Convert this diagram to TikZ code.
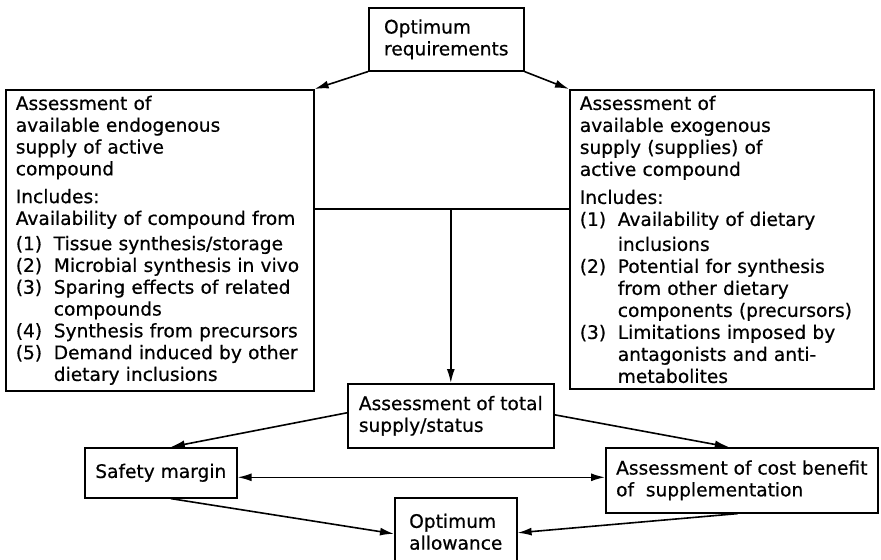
\documentclass[tikz,border=0pt]{standalone}
\usepackage{fontspec}
\setmainfont{DejaVu Sans}[FakeBold=0.6]
\usetikzlibrary{arrows.meta}
\usetikzlibrary{calc}

% 编号条目: 编号占固定宽度, 续行缩进同宽
\newcommand{\itemno}[1]{\makebox[19pt][l]{#1}}
\newcommand{\itemcont}{\hspace*{19pt}}

\begin{document}
\begin{tikzpicture}[x=0.5pt, y=-0.5pt]
        % ================= 样式定义 =================
        \tikzset{
            % 方框节点:白底黑边,文字左对齐
            bnode/.style={draw=black, thick, fill=white, align=left, inner xsep=5pt, inner ysep=3pt,
                font=\fontsize{9.3}{10.9}\selectfont},
            % 带箭头的连线
            >={Latex[length=7pt, width=4pt]},
            alink/.style={thick, black, ->}
        }
        \useasboundingbox (0,0) rectangle (881,560);

        % ================= 顶部:最优需要量 =================
        \node[bnode, anchor=north west, minimum width=77.5pt, minimum height=31.5pt] (req) at (368,7)
            {Optimum\\requirements};

        % ================= 左右两个评估框 =================
        \node[bnode, anchor=north west, text width=144pt] (endo) at (5,89) {%
            Assessment of\\
            available endogenous\\
            supply of active\\
            compound\\[3pt]
            Includes:\\
            Availability of compound from\\[1.7pt]
            \itemno{(1)}Tissue synthesis/storage\\
            \itemno{(2)}Microbial synthesis in vivo\\
            \itemno{(3)}Sparing effects of related\\
            \itemcont compounds\\
            \itemno{(4)}Synthesis from precursors\\
            \itemno{(5)}Demand induced by other\\
            \itemcont dietary inclusions};

        \node[bnode, anchor=north west, text width=142pt, font=\fontsize{9.3}{11}\selectfont] (exo) at (569,89) {%
            Assessment of\\
            available exogenous\\
            supply (supplies) of\\
            active compound\\[3pt]
            Includes:\\
            \itemno{(1)}Availability of dietary\\[1.5pt]
            \itemcont inclusions\\
            \itemno{(2)}Potential for synthesis\\
            \itemcont from other dietary\\
            \itemcont components (precursors)\\
            \itemno{(3)}Limitations imposed by\\
            \itemcont antagonists and anti-\\
            \itemcont metabolites};

        % ================= 中部与底部 =================
        \node[bnode, anchor=north west, minimum width=103pt, minimum height=32pt] (total) at (347,383)
            {Assessment of total\\supply/status};
        \node[bnode, anchor=north west, minimum width=76pt, minimum height=25pt] (safety) at (84,447)
            {Safety margin};
        \node[bnode, anchor=north west, minimum width=136pt, minimum height=32.5pt] (cost) at (605,447)
            {Assessment of cost benefit\\of \ supplementation};
        \node[bnode, anchor=north west, minimum width=61pt, minimum height=34pt] (allow) at (394,497)
            {Optimum\\allowance};

        % 顶部分叉
        \draw[alink] (req.south west) -- (endo.north east);
        \draw[alink] (req.south east) -- (exo.north west);

        % 两框之间的横线,汇合后向下
        \coordinate (junc) at (total.north |- 0,209);
        \draw[thick] (endo.east |- junc) -- (exo.west |- junc);
        \draw[alink] (junc) -- (total.north);

        % 总评估分向两侧
        \draw[alink] ([yshift=1.5pt]total.west) -- ([xshift=5pt]safety.north);
        \draw[alink] ([yshift=0.5pt]total.east) -- ([xshift=-6.5pt]cost.north);
        \draw[alink, <->] ([yshift=-2.25pt]safety.east) -- ([yshift=-2.25pt]safety.east -| cost.west);

        % 汇入最优供给量
        \draw[alink] ([xshift=5pt]safety.south) -- ([yshift=-1pt]allow.west);
        \draw[alink] ([xshift=-2pt]cost.south) -- ([yshift=-0.5pt]allow.east);

    \end{tikzpicture}
\end{document}
